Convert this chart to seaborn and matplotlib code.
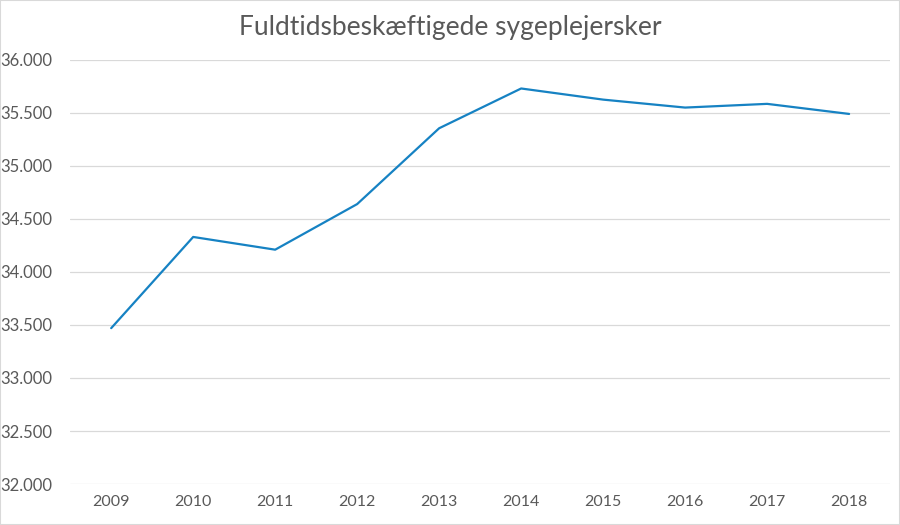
import matplotlib
matplotlib.use("Agg")
import matplotlib.pyplot as plt
import seaborn as sns
import pandas as pd
from matplotlib.ticker import FuncFormatter
from matplotlib.patches import Rectangle

years = ["2009", "2010", "2011", "2012", "2013", "2014", "2015", "2016", "2017", "2018"]
values = [33470, 34330, 34210, 34640, 35355, 35730, 35625, 35550, 35585, 35490]
title = "Fuldtidsbeskæftigede sygeplejersker"

df = pd.DataFrame({"year": years, "value": values})

sns.set_style("white")
plt.rcParams["font.family"] = ["Lato", "DejaVu Sans"]

fig = plt.figure(figsize=(9, 5.25), dpi=100)
ax = fig.add_axes([0.078, 0.078, 0.911, 0.808])

sns.lineplot(data=df, x="year", y="value", ax=ax, color="#1682C3", linewidth=1.6, sort=False)

ax.set_xlim(-0.5, len(years) - 0.5)
ax.set_ylim(32000, 36000)
ax.set_yticks(range(32000, 36001, 500))
ax.yaxis.set_major_formatter(FuncFormatter(lambda v, p: f"{int(v):,}".replace(",", ".")))
ax.grid(axis="y", color="#D9D9D9", linewidth=0.9)
ax.set_axisbelow(True)
for s in ax.spines.values():
    s.set_visible(False)
ax.tick_params(axis="both", length=0, labelcolor="#595959")
ax.tick_params(axis="y", pad=13, labelsize=12)
ax.tick_params(axis="x", pad=8, labelsize=11.5)
ax.set_xlabel("")
ax.set_ylabel("")

fig.text(0.5, 0.948, title, ha="center", va="center", fontsize=19, color="#595959")

fig.patches.append(Rectangle((0, 0), 1, 1, transform=fig.transFigure, fill=False,
                             edgecolor="#D9D9D9", linewidth=1.5))

fig.savefig("out.png", dpi=100)
